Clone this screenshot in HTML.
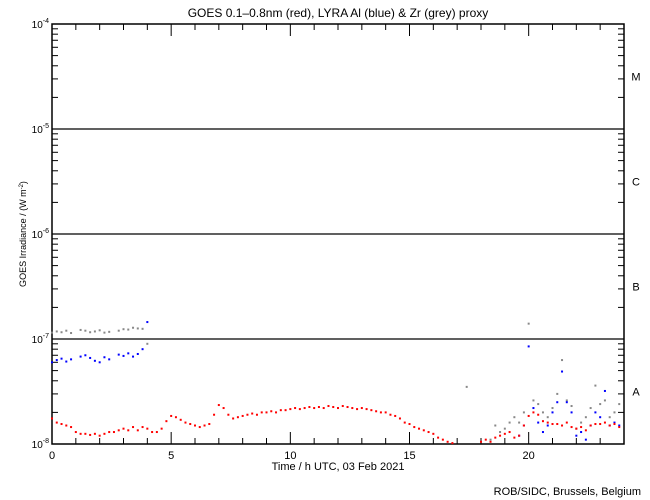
<!DOCTYPE html>
<html><head><meta charset="utf-8"><style>
body{margin:0;background:#fff}
svg{display:block;font-family:"Liberation Sans",sans-serif}
</style></head><body>
<svg id="chart" width="650" height="500" viewBox="0 0 650 500">
<rect width="650" height="500" fill="#fff"/>
<text x="338" y="17" font-size="12" text-anchor="middle">GOES 0.1–0.8nm (red), LYRA Al (blue) &amp; Zr (grey) proxy</text>
<text x="338" y="470" font-size="11" text-anchor="middle">Time / h UTC, 03 Feb 2021</text>
<text transform="translate(26,234) rotate(-90)" font-size="9" text-anchor="middle">GOES Irradiance / (W m<tspan baseline-shift="super" font-size="6">-2</tspan>)</text>
<text x="641" y="495" font-size="11" text-anchor="end">ROB/SIDC, Brussels, Belgium</text>
<g id="axes"></g>
<g id="marks"></g>
</svg>
<script>
const times = [];
for (let i = 0; i < 120; i++) times.push(i * 0.2);
const redVals = [1.75,1.6,1.55,1.5,1.45,1.3,1.25,1.25,1.22,1.25,1.2,1.25,1.3,1.3,1.35,1.4,1.35,1.45,1.35,1.45,
1.4,1.3,1.3,1.4,1.65,1.85,1.8,1.7,1.6,1.55,1.5,1.45,1.5,1.55,1.9,2.35,2.2,1.9,1.75,1.8,
1.85,1.9,1.95,1.9,2.0,2.0,2.05,2.0,2.1,2.1,2.15,2.2,2.15,2.2,2.25,2.2,2.25,2.2,2.3,2.25,
2.2,2.3,2.25,2.2,2.15,2.2,2.15,2.1,2.05,2.0,2.0,1.9,1.85,1.75,1.6,1.55,1.45,1.4,1.35,1.3,
1.25,1.15,1.1,1.05,1.02,null,null,null,null,null,1.05,1.1,1.05,1.15,1.2,1.25,1.3,1.15,1.2,1.5,
1.85,2.0,1.9,1.65,1.6,1.55,1.55,1.5,1.6,1.45,1.4,1.45,1.35,1.5,1.55,1.55,1.6,1.5,1.55,1.45];
const blueVals = [6.0,6.3,6.5,6.1,6.4,null,6.8,7.0,6.6,6.2,6.0,6.7,6.4,null,7.1,6.9,7.3,6.8,7.2,8.0,
14.5,null,null,null,null,null,null,null,null,null,null,null,null,null,null,null,null,null,null,null,
null,null,null,null,null,null,null,null,null,null,null,null,null,null,null,null,null,null,null,null,
null,null,null,null,null,null,null,null,null,null,null,null,null,null,null,null,null,null,null,null,
null,null,null,null,null,null,null,null,null,null,null,null,null,null,null,null,null,null,1.2,1.5,
8.5,2.2,1.6,1.3,1.5,2.0,2.5,4.9,2.5,2.0,1.2,1.3,1.1,1.5,2.0,1.8,3.2,1.5,1.6,1.5];
const greyVals = [11.5,11.8,11.6,12.0,11.4,null,12.2,12.0,11.6,11.8,12.1,11.5,11.7,null,12.0,12.4,12.3,12.8,12.6,12.5,
9.0,null,null,null,null,null,null,null,null,null,null,null,null,null,null,null,null,null,null,null,
null,null,null,null,null,null,null,null,null,null,null,null,null,null,null,null,null,null,null,null,
null,null,null,null,null,null,null,null,null,null,null,null,null,null,null,null,null,null,null,null,
null,null,null,null,null,null,null,3.5,null,null,null,null,1.1,1.5,1.3,1.4,1.6,1.8,1.6,2.0,
14.0,2.6,2.4,2.0,1.8,2.2,3.0,6.3,2.6,2.3,1.4,1.6,1.8,2.2,3.6,2.4,2.6,1.8,2.0,2.4];
const xTicks = [0,5,10,15,20];
const yDecades = [-8,-7,-6,-5,-4];
const classLabels = ["A","B","C","M"];

const X0=52,X1=624,Y0=444,Y1=24;
const xs = t => X0 + (X1-X0)*t/24;
const ys = v => Y0 - (Y0-Y1)*(Math.log10(v)+8)/4;
const NS="http://www.w3.org/2000/svg";
const axes=document.getElementById('axes'), marks=document.getElementById('marks');
function mk(tag,attrs,parent){const e=document.createElementNS(NS,tag);for(const k in attrs)e.setAttribute(k,attrs[k]);parent.appendChild(e);return e;}

const frame=mk('rect',{x:X0,y:Y1,width:X1-X0,height:Y0-Y1,fill:'none',stroke:'#000','stroke-width':1.5},axes);



yDecades.forEach((d,i)=>{
  const y=ys(Math.pow(10,d));
  if(i>0&&i<yDecades.length-1){
    const l=mk('line',{x1:X0,x2:X1,y1:y,y2:y,stroke:'#000','stroke-width':1.3},axes);
    
    
  }
  const t=mk('text',{x:X0-3,y:y+4,'font-size':10,'text-anchor':'end'},axes);
  
  
  t.innerHTML='10<tspan dy="-5" font-size="7">'+d+'</tspan>';
  if(i<yDecades.length-1){
    for(let m=2;m<=9;m++){
      const yy=ys(m*Math.pow(10,d));
      mk('line',{x1:X0,x2:X0+6,y1:yy,y2:yy,stroke:'#000'},axes);
      mk('line',{x1:X1-6,x2:X1,y1:yy,y2:yy,stroke:'#000'},axes);
    }
    const cl=mk('text',{x:636,y:(y+ys(Math.pow(10,d+1)))/2+4,'font-size':11,'text-anchor':'middle'},axes);
    
    
    cl.textContent=classLabels[i];
  }
});
for(let h=0;h<=24;h++){
  const x=xs(h), len=(h%5===0)?12:6;
  mk('line',{x1:x,x2:x,y1:Y0,y2:Y0-len,stroke:'#000'},axes);
  mk('line',{x1:x,x2:x,y1:Y1,y2:Y1+len,stroke:'#000'},axes);
}
xTicks.forEach(h=>{
  const t=mk('text',{x:xs(h),y:459,'font-size':11,'text-anchor':'middle'},axes);
  
  
  t.textContent=h;
});
function series(vals,color,name){
  vals.forEach((v,i)=>{
    if(v==null)return;
    const val=v*1e-8;
    if(val<1e-8||val>1e-4)return;
    const r=mk('rect',{x:xs(times[i])-1,y:ys(val)-1,width:2,height:2,fill:color},marks);
    
    
  });
}
series(greyVals,'#888','zr-proxy-point');
series(blueVals,'#0000ff','al-proxy-point');
series(redVals,'#ff0000','goes-point');
</script>
</body></html>
